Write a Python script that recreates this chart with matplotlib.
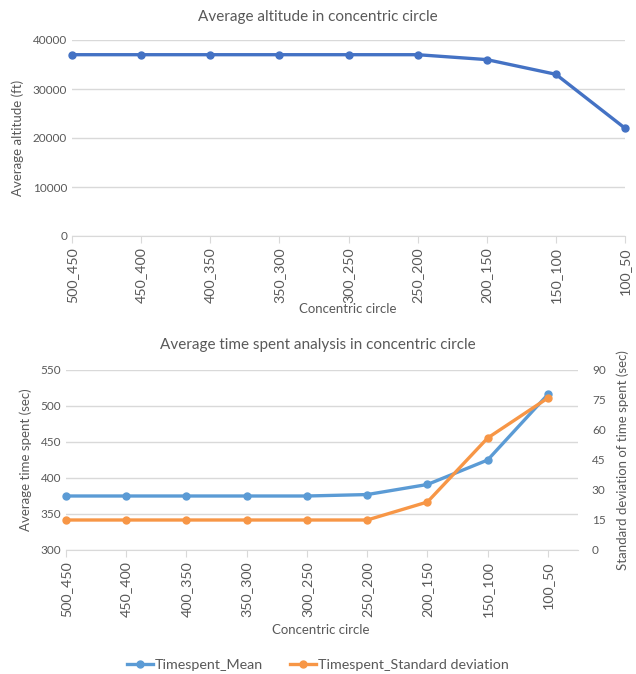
import matplotlib.pyplot as plt
import numpy as np

plt.rcParams['font.family'] = ['Lato', 'DejaVu Sans']

circles = ["500_450", "450_400", "400_350", "350_300", "300_250",
           "250_200", "200_150", "150_100", "100_50"]
altitude = [37000, 37000, 37000, 37000, 37000, 37000, 36000, 33000, 22000]
time_mean = [375, 375, 375, 375, 375, 377, 391, 425, 516]
time_std = [15, 15, 15, 15, 15, 15, 24, 56, 76]

TXT = '#595959'
GRID = '#d9d9d9'
W, H = 636, 674

fig = plt.figure(figsize=(W / 100, H / 100), dpi=100)

def box(x0, y0, x1, y1):
    # pixel box -> figure fraction
    return [x0 / W, 1 - y1 / H, (x1 - x0) / W, (y1 - y0) / H]

def style(ax):
    for s in ['top', 'right', 'left']:
        ax.spines[s].set_visible(False)
    ax.spines['bottom'].set_color(GRID)
    ax.grid(axis='y', color=GRID, linewidth=1)
    ax.set_axisbelow(True)
    ax.tick_params(axis='y', length=0, colors=TXT, labelsize=8.5)
    ax.tick_params(axis='x', length=5, color=GRID, colors=TXT, labelsize=10.3,
                   labelrotation=90, pad=3)

x = np.arange(len(circles))

# top chart
ax1 = fig.add_axes(box(72, 40, 625, 236))
ax1.plot(x, altitude, color='#4472C4', lw=2.4, marker='o', ms=5, clip_on=False)
ax1.set_xlim(0, 8)
ax1.set_ylim(0, 40000)
ax1.set_yticks(range(0, 40001, 10000))
ax1.set_xticks(x)
ax1.set_xticklabels(circles)
style(ax1)
fig.text(0.5, 1 - 17 / H, 'Average altitude in concentric circle', color=TXT,
         fontsize=11, ha='center', va='center')
ax1.set_ylabel('Average altitude (ft)', color=TXT, fontsize=9.5, labelpad=6)
fig.text(348 / W, 1 - 309 / H, 'Concentric circle', color=TXT, fontsize=9.5,
         ha='center', va='center')

# bottom chart
ax2 = fig.add_axes(box(66, 370, 578, 550))
ax3 = ax2.twinx()
l1, = ax2.plot(x, time_mean, color='#5B9BD5', lw=2.4, marker='o', ms=5,
               clip_on=False, label='Timespent_Mean')
l2, = ax3.plot(x, time_std, color='#F79646', lw=2.4, marker='o', ms=5,
               clip_on=False, label='Timespent_Standard deviation')
ax2.set_xlim(0, 8.5)
ax2.set_ylim(300, 550)
ax2.set_yticks(range(300, 551, 50))
ax3.set_ylim(0, 90)
ax3.set_yticks(range(0, 91, 15))
ax2.set_xticks(x)
ax2.set_xticklabels(circles)
style(ax2)
for s in ax3.spines.values():
    s.set_visible(False)
ax3.tick_params(axis='y', length=0, colors=TXT, labelsize=8.5, pad=10)
fig.text(0.5, 1 - 345 / H, 'Average time spent analysis in concentric circle',
         color=TXT, fontsize=11, ha='center', va='center')
ax2.set_ylabel('Average time spent (sec)', color=TXT, fontsize=9.5, labelpad=6)
ax3.set_ylabel('Standard deviation of time spent (sec)', color=TXT, fontsize=9.5,
               labelpad=8)
fig.text(321 / W, 1 - 630 / H, 'Concentric circle', color=TXT, fontsize=9.5,
         ha='center', va='center')

fig.legend(handles=[l1, l2], loc='center', bbox_to_anchor=(0.5, 1 - 665 / H),
           ncol=2, frameon=False, fontsize=10.3, labelcolor=TXT,
           handlelength=1.8, columnspacing=1.9, handletextpad=0.15)

fig.savefig('out.png', dpi=100)
